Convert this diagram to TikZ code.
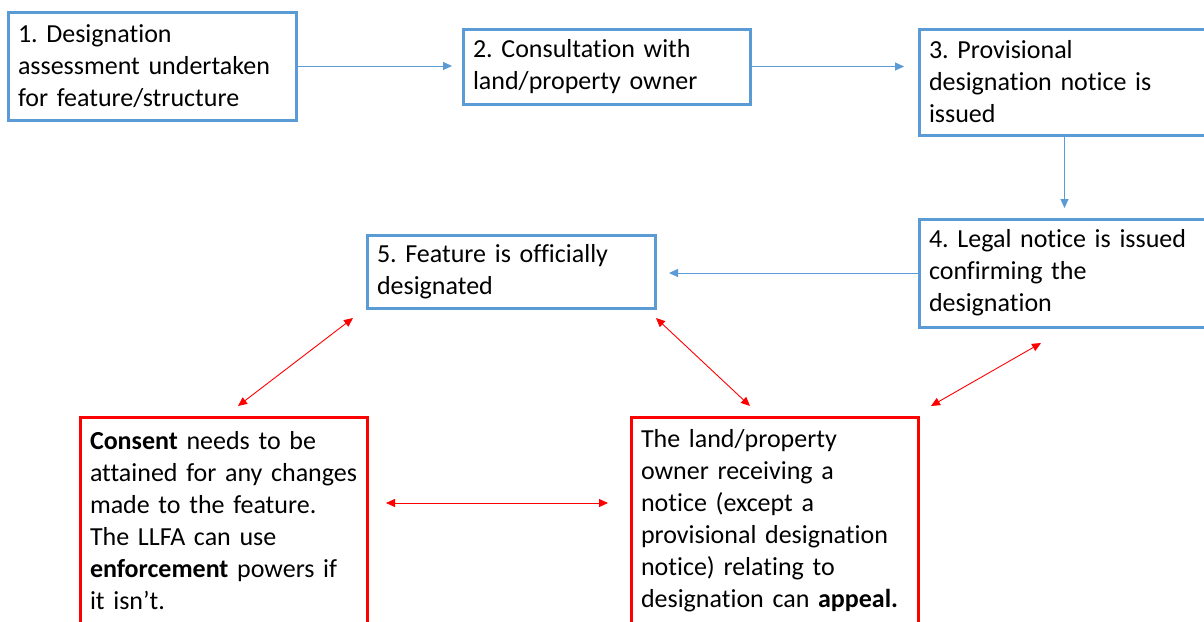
\documentclass[tikz,border=0pt]{standalone}
\usepackage{fontspec}
\setmainfont[Ligatures={NoCommon}]{Carlito}
\frenchspacing
\hfuzz=30pt
\usetikzlibrary{arrows.meta,calc}
\definecolor{boxblue}{RGB}{91,155,213}
\definecolor{boxred}{RGB}{255,0,0}
\tikzset{
  base/.style={draw, line width=3pt, anchor=north west, align=left, inner xsep=10pt, inner ysep=0pt, outer sep=0pt, font=\fontsize{26}{32}\selectfont\frenchspacing, text=black},
  bbox/.style={base, draw=boxblue},
  rbox/.style={base, draw=boxred},
  barrow/.style={draw=boxblue, line width=1pt, -{Triangle[length=9pt,width=8pt]}},
  rarrow/.style={draw=boxred, line width=0.9pt, {Triangle[length=9pt,width=8pt]}-{Triangle[length=9pt,width=8pt]}}
}
\begin{document}
\begin{tikzpicture}[x=1pt,y=-1pt]
\useasboundingbox (0,0) rectangle (1204,621);
\clip (0,0) rectangle (1204,621);
\fill[white] (0,0) rectangle (1204,621);
\node[bbox, minimum width=288, minimum height=108, text width=268] (b1) at (8,12) {1. Designation\\assessment undertaken\\for feature/structure};
\node[bbox, minimum width=287, minimum height=75, text width=267] (b2) at (463,29) {2. Consultation with\\land/property owner};
\node[bbox, minimum width=291, minimum height=106, text width=271] (b3) at (919,29) {3. Provisional\\designation notice is\\issued};
\node[bbox, minimum width=291, minimum height=108, text width=271] (b4) at (919,219) {4. Legal notice is issued\\confirming the\\designation};
\node[bbox, minimum width=288, minimum height=73, text width=268] (b5) at (367,235) {5. Feature is officially\\designated};
\node[rbox, minimum width=287, minimum height=208, text width=267] (r1) at (80,417) {\textbf{Consent} needs to be\\\mbox{attained for any changes}\\made to the feature.\\The LLFA can use\\\textbf{enforcement} powers if\\it isn’t.};
\node[rbox, minimum width=287, minimum height=208, text width=267] (r2) at (631,417) {The land/property\\owner receiving a\\notice (except a\\provisional designation\\notice) relating to\\designation can \textbf{appeal.}};
\draw[barrow, shorten >=11pt] (b1.east) -- (b1.east -| b2.west);
\draw[barrow, shorten >=15pt] (b2.east) -- (b2.east -| b3.west);
\draw[barrow, shorten >=11pt] (b3.south) -- (b4.north);
\draw[barrow, shorten >=14pt] (b4.west) -- (b4.west -| b5.east);
\draw[rarrow] ([shift={(-14,10)}]b5.south west) -- ([shift={(158,-11)}]r1.north west);
\draw[rarrow] ([shift={(1,10)}]b5.south east) -- ([shift={(119,-11)}]r2.north west);
\draw[rarrow] ([shift={(122,16)}]b4.south west) -- ([shift={(13,-11)}]r2.north east);
\draw[rarrow] ([shift={(19,86)}]r1.north east) -- ([shift={(-23,86)}]r2.north west);
\end{tikzpicture}
\end{document}
